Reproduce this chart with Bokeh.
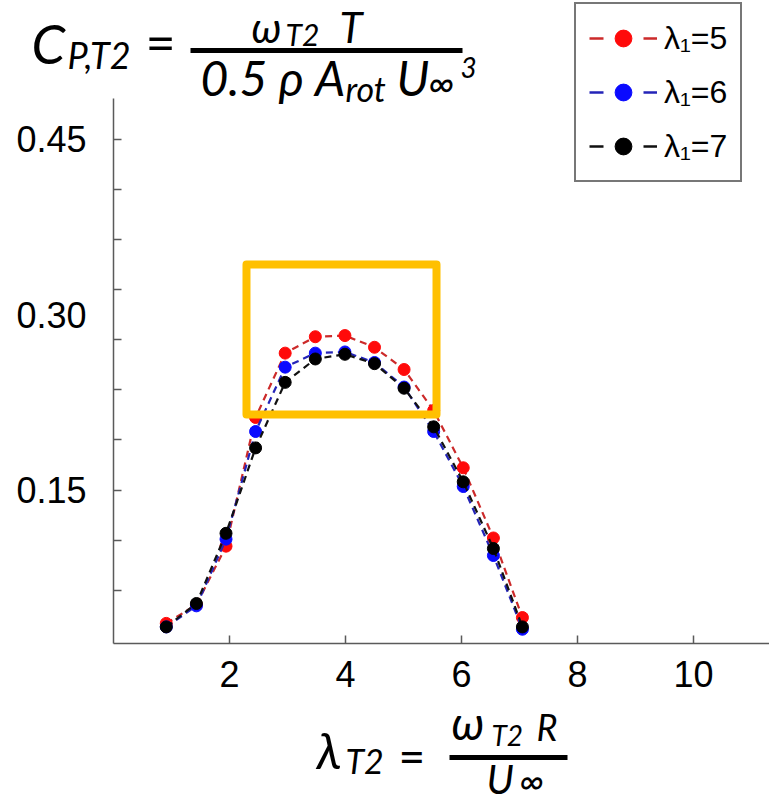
from bokeh.plotting import figure
from bokeh.models import (FixedTicker, PrintfTickFormatter, BoxAnnotation, Label,
                          Legend, LegendItem, ColumnDataSource)
from bokeh.embed import file_html
from bokeh.resources import INLINE

# Tip speed ratio of the second turbine and its power coefficient
lam_t2 = [0.91, 1.43, 1.94, 2.45, 2.96, 3.48, 3.99, 4.50, 5.01, 5.52, 6.03, 6.55, 7.05]
cp_l5 = [0.036, 0.052, 0.102, 0.212, 0.267, 0.281, 0.282, 0.272, 0.253, 0.218, 0.169, 0.109, 0.041]
cp_l6 = [0.033, 0.051, 0.108, 0.200, 0.255, 0.267, 0.268, 0.259, 0.238, 0.200, 0.153, 0.094, 0.031]
cp_l7 = [0.033, 0.053, 0.113, 0.186, 0.242, 0.262, 0.266, 0.258, 0.237, 0.204, 0.157, 0.100, 0.033]

series_labels = ["λ₁=5", "λ₁=6", "λ₁=7"]
x_ticks = [2, 4, 6, 8, 10]
y_ticks = [0.15, 0.30, 0.45]
y_minor = [0.45, 0.4071, 0.3643, 0.3214, 0.2786, 0.2357, 0.1929, 0.15, 0.1071, 0.0643]

# axis extents (data units)
x_lo, x_hi = 0.0, 11.31
y_lo, y_hi = 0.0188, 0.4846

# highlighted region around the peak
hl_left, hl_right, hl_top, hl_bottom = 2.293, 5.569, 0.3427, 0.2145

W, H = 769, 803
# the frame fills the whole page; axes are pinned inside it
p = figure(width=W, height=H, x_range=(-1.948, 11.31), y_range=(-0.11795, 0.5684),
           min_border=0, min_border_left=0, min_border_right=0, min_border_top=0,
           min_border_bottom=0, output_backend="svg", toolbar_location=None,
           background_fill_color="white", border_fill_color="white")
p.outline_line_color = None
p.grid.visible = False

ax_col = "#5a5a5a"
tick_font = "Liberation Sans"

p.xaxis.fixed_location = y_lo
p.xaxis.bounds = (x_lo, x_hi)
p.xaxis.ticker = FixedTicker(ticks=x_ticks)
p.xaxis.major_tick_in = 8
p.xaxis.major_tick_out = 0
p.xaxis.major_tick_line_color = ax_col
p.xaxis.major_tick_line_width = 1.5
p.xaxis.minor_tick_line_color = None
p.xaxis.major_label_standoff = 17

p.yaxis.fixed_location = x_lo
p.yaxis.bounds = (y_lo, y_hi)
p.yaxis.ticker = FixedTicker(ticks=y_ticks, minor_ticks=y_minor)
p.yaxis.formatter = PrintfTickFormatter(format="%.2f")
p.yaxis.major_tick_line_color = None
p.yaxis.minor_tick_in = 8
p.yaxis.minor_tick_out = 0
p.yaxis.minor_tick_line_color = ax_col
p.yaxis.minor_tick_line_width = 1.5
p.yaxis.major_label_standoff = 21

for ax in (p.xaxis, p.yaxis):
    ax.axis_line_color = ax_col
    ax.axis_line_width = 1.5
    ax.major_label_text_font = tick_font
    ax.major_label_text_font_size = "36px"
    ax.major_label_text_color = "black"

line_cols = ["#cc2a2a", "#2424b8", "#111111"]
dot_cols = ["#ff0a0a", "#0a0aff", "#000000"]

src = ColumnDataSource(dict(x=lam_t2, l5=cp_l5, l6=cp_l6, l7=cp_l7))
nan = float("nan")
items = []
for key, lc, dc, lab in zip(["l5", "l6", "l7"], line_cols, dot_cols, series_labels):
    p.line("x", key, source=src, line_color=lc, line_width=2.2, line_dash="7 5")
    p.scatter("x", key, source=src, size=12, fill_color=dc, line_color=dc)
    # legend-only swatches (no visible data)
    lg_line = p.line(x=[nan], y=[nan], line_color=lc, line_width=2.5, line_dash="14 40")
    lg_dot = p.scatter(x=[nan], y=[nan], size=17, fill_color=dc, line_color=dc)
    items.append(LegendItem(label=lab, renderers=[lg_line, lg_dot]))

p.add_layout(BoxAnnotation(left=hl_left, right=hl_right, top=hl_top, bottom=hl_bottom,
                           fill_alpha=0, line_color="#ffc000", line_alpha=1,
                           line_width=8, line_join="round"))

legend = Legend(items=items, location=(574, H - 182), orientation="vertical",
                glyph_width=68, glyph_height=42, spacing=12, padding=13, margin=0,
                label_standoff=7, label_text_font=tick_font, label_text_font_size="32px",
                label_text_color="black", label_text_baseline="middle",
                border_line_color="#777777", border_line_width=2, border_line_alpha=1,
                background_fill_color="white", background_fill_alpha=1)
p.add_layout(legend)

formula_font = "Lato"


def put(text, cx, cy, size, italic=True, font=formula_font):
    # cx: left edge, cy: baseline, both in page pixels from the top-left corner
    p.add_layout(Label(x=cx, y=H - cy + 0.45 * size, x_units="screen", y_units="screen",
                       text=text, text_font=font, text_font_size=f"{size}px",
                       text_font_style="italic" if italic else "normal",
                       text_baseline="alphabetic", text_align="left",
                       text_color="black"))


def bar(x0, x1, cy, th=5):
    p.add_layout(BoxAnnotation(left=x0, right=x1, top=H - cy + th / 2,
                               bottom=H - cy - th / 2, left_units="screen",
                               right_units="screen", top_units="screen",
                               bottom_units="screen", fill_color="black",
                               fill_alpha=1, line_color=None))


# power coefficient definition
put("C", 31, 67, 54)
put("P,T2", 67, 71, 36)
put("=", 145, 65, 52, italic=False)
put("ω", 251, 45, 42)
put("T2", 285, 47, 30)
put("T", 339, 45, 42)
bar(190, 462, 50)
put("0.5 ρ A", 200, 99, 48)
put("rot", 345, 103, 34)
put("U", 396, 99, 48)
put("∞", 428, 99, 38)
put("3", 460, 80, 28)

# tip speed ratio definition
put("λ", 316, 772, 50)
put("T2", 345, 775, 34)
put("=", 398, 776, 46, italic=False)
put("ω", 451, 743, 46)
put("T2", 491, 747, 28)
put("R", 536, 743, 36)
bar(449, 567, 757)
put("U", 486, 796, 40)
put("∞", 519, 796, 36)

open("out.html", "w").write(file_html(p, INLINE))
